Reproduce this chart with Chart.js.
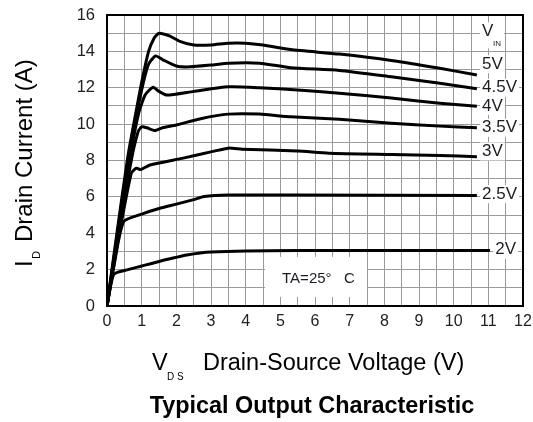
<!DOCTYPE html>
<html>
<head>
<meta charset="utf-8">
<script src="https://cdn.jsdelivr.net/npm/chart.js@4.4.1/dist/chart.umd.min.js"></script>
<style>
  body { margin: 0; background: #fff; }
  canvas { display: block; }
</style>
</head>
<body>
<canvas id="outputChart" width="533" height="422"></canvas>
<script>
const FONT = "'Liberation Sans', Arial, sans-serif";

// V_GS curves, [V_DS, I_D] pairs
const vinLabels = ["5V", "4.5V", "4V", "3.5V", "3V", "2.5V", "2V"];

const curve5V = [[0, 0], [0.3, 4.2], [0.6, 8.2], [0.8, 10.3], [1.0, 12.3], [1.2, 14.0], [1.35, 14.7], [1.5, 15.0], [1.8, 14.85], [2.1, 14.55], [2.5, 14.35], [3.0, 14.35], [3.5, 14.45], [4.0, 14.45], [4.5, 14.35], [5.3, 14.1], [6.7, 13.85], [8.2, 13.5], [9.6, 13.07], [10.67, 12.7]];
const curve4V5 = [[0, 0], [0.3, 4.0], [0.62, 8.2], [0.85, 10.5], [1.05, 12.3], [1.2, 13.3], [1.4, 13.75], [1.6, 13.55], [2.0, 13.2], [2.4, 13.15], [3.0, 13.25], [3.5, 13.35], [4.4, 13.35], [5.3, 13.1], [6.7, 12.95], [8.2, 12.6], [9.6, 12.25], [10.67, 11.95]];
const curve4V = [[0, 0], [0.3, 3.8], [0.65, 8.0], [0.9, 10.5], [1.1, 11.6], [1.33, 12.03], [1.5, 11.8], [1.73, 11.6], [2.5, 11.8], [3.5, 12.05], [4.4, 12.0], [5.5, 11.87], [6.7, 11.7], [8.2, 11.43], [9.6, 11.15], [10.67, 10.98]];
const curve3V5 = [[0, 0], [0.3, 3.6], [0.7, 8.0], [0.9, 9.6], [1.0, 9.85], [1.15, 9.8], [1.38, 9.65], [1.6, 9.8], [2.0, 9.95], [2.7, 10.3], [3.5, 10.55], [4.4, 10.55], [5.3, 10.4], [6.7, 10.27], [8.2, 10.05], [9.6, 9.89], [10.67, 9.8]];
const curve3V = [[0, 0], [0.3, 3.4], [0.7, 7.3], [0.85, 7.58], [0.97, 7.5], [1.24, 7.75], [2.2, 8.13], [3.06, 8.5], [3.5, 8.68], [3.9, 8.62], [5.5, 8.52], [6.4, 8.4], [8.2, 8.33], [9.6, 8.28], [10.67, 8.2]];
const curve2V5 = [[0, 0], [0.2, 2.2], [0.48, 4.64], [1.0, 5.05], [1.5, 5.36], [2.0, 5.6], [2.5, 5.85], [2.8, 6.02], [3.5, 6.1], [5.5, 6.1], [10.67, 6.07]];
const curve2V = [[0, 0], [0.19, 1.73], [0.5, 1.95], [1.0, 2.2], [1.5, 2.45], [2.3, 2.8], [3.0, 2.97], [5.5, 3.05], [11.05, 3.05]];

const curves = [curve5V, curve4V5, curve4V, curve3V5, curve3V, curve2V5, curve2V];

// where each V_IN label sits, in axis units
const labelSpots = [[10.82, 13.3], [10.82, 12.0], [10.82, 11.0], [10.82, 9.8], [10.82, 8.5], [10.82, 6.15], [11.2, 3.1]];

function toPoints(curve) {
  return curve.map(function (p) {
    return { x: p[0], y: p[1] };
  });
}

function whiteText(ctx, text, x, y) {
  const w = ctx.measureText(text).width;
  ctx.fillStyle = "#fff";
  ctx.fillRect(x - 2, y - 9, w + 4, 18);
  ctx.fillStyle = "#1c1c24";
  ctx.fillText(text, x, y);
}

const decorPlugin = {
  id: "decor",
  beforeDatasetsDraw: function (chart) {
    const ctx = chart.ctx;
    const xs = chart.scales.x;
    const ys = chart.scales.y;
    // white note box that hides the grid
    const x0 = xs.getPixelForValue(4.56);
    const x1 = xs.getPixelForValue(7.5);
    const y0 = ys.getPixelForValue(2.7);
    const y1 = ys.getPixelForValue(0.5);
    ctx.save();
    ctx.fillStyle = "#fff";
    ctx.fillRect(x0, y0, x1 - x0, y1 - y0);
    ctx.fillStyle = "#1c1c24";
    ctx.font = "15px " + FONT;
    ctx.textBaseline = "middle";
    ctx.fillText("TA=25°   C", xs.getPixelForValue(5.05), ys.getPixelForValue(1.48));
    ctx.restore();
  },
  afterDatasetsDraw: function (chart) {
    const ctx = chart.ctx;
    const a = chart.chartArea;
    const xs = chart.scales.x;
    const ys = chart.scales.y;
    ctx.save();
    ctx.font = "17px " + FONT;
    ctx.textBaseline = "middle";
    vinLabels.forEach(function (t, i) {
      whiteText(ctx, t, xs.getPixelForValue(labelSpots[i][0]), ys.getPixelForValue(labelSpots[i][1]));
    });
    // V_IN header
    const vx = xs.getPixelForValue(10.82);
    const vy = ys.getPixelForValue(15.1);
    ctx.fillStyle = "#fff";
    ctx.fillRect(vx - 2, vy - 9, 24, 26);
    ctx.fillStyle = "#1c1c24";
    ctx.fillText("V", vx, vy);
    ctx.font = "8px " + FONT;
    ctx.fillText("IN", vx + 11, vy + 12);

    ctx.strokeStyle = "#000";
    ctx.lineWidth = 2;
    ctx.strokeRect(a.left, a.top, a.right - a.left, a.bottom - a.top);
    ctx.restore();
  },
  afterDraw: function (chart) {
    const ctx = chart.ctx;
    const a = chart.chartArea;
    ctx.save();
    ctx.fillStyle = "#000";
    ctx.textBaseline = "alphabetic";

    // x axis title
    const bx = a.left + 45;
    const by = a.bottom + 64;
    ctx.font = "23.5px " + FONT;
    ctx.fillText("V", bx, by);
    ctx.fillText("Drain-Source Voltage (V)", bx + 51, by);
    ctx.font = "10px " + FONT;
    ctx.fillText("D S", bx + 15, by + 10);

    // chart title
    ctx.font = "bold 23.4px " + FONT;
    ctx.textAlign = "center";
    ctx.fillText("Typical Output Characteristic", 312, a.bottom + 107);

    // y axis title
    ctx.textAlign = "left";
    ctx.translate(32, 267);
    ctx.rotate(-Math.PI / 2);
    ctx.font = "24px " + FONT;
    ctx.fillText("I", 0, 0);
    ctx.fillText("Drain Current (A)", 25, 0);
    ctx.font = "11px " + FONT;
    ctx.fillText("D", 8, 8);
    ctx.restore();
  }
};

function createOutputChart() {
  const ctx = document.getElementById("outputChart").getContext("2d");

  const datasets = curves.map(function (c, i) {
    return {
      label: vinLabels[i],
      data: toPoints(c),
      borderColor: "#000",
      borderWidth: 3,
      pointRadius: 0,
      tension: 0.2,
      fill: false
    };
  });

  return new Chart(ctx, {
    type: "line",
    data: { datasets: datasets },
    plugins: [decorPlugin],
    options: {
      responsive: false,
      animation: false,
      layout: { padding: { top: 15, right: 10, left: 0, bottom: 0 } },
      plugins: {
        legend: { display: false },
        tooltip: { enabled: false }
      },
      scales: {
        x: {
          type: "linear",
          min: 0,
          max: 12,
          border: { display: false },
          grid: { color: "#9a9a9a", lineWidth: 1, tickLength: 6, tickColor: "rgba(0,0,0,0)" },
          ticks: {
            stepSize: 0.5,
            autoSkip: false,
            maxRotation: 0,
            padding: 0,
            color: "#222",
            font: { family: FONT, size: 16 },
            callback: function (v) {
              return Number.isInteger(v) ? String(v) : "";
            }
          },
          afterFit: function (s) {
            s.height = 116;
          }
        },
        y: {
          min: 0,
          max: 16,
          border: { display: false },
          grid: { color: "#9a9a9a", lineWidth: 1, tickLength: 12, tickColor: "rgba(0,0,0,0)" },
          ticks: {
            stepSize: 1,
            autoSkip: false,
            padding: 0,
            color: "#222",
            font: { family: FONT, size: 16.5 },
            callback: function (v) {
              return v % 2 === 0 ? String(v) : "";
            }
          },
          afterFit: function (s) {
            s.width = 107;
          }
        }
      }
    }
  });
}

createOutputChart();
</script>
</body>
</html>
